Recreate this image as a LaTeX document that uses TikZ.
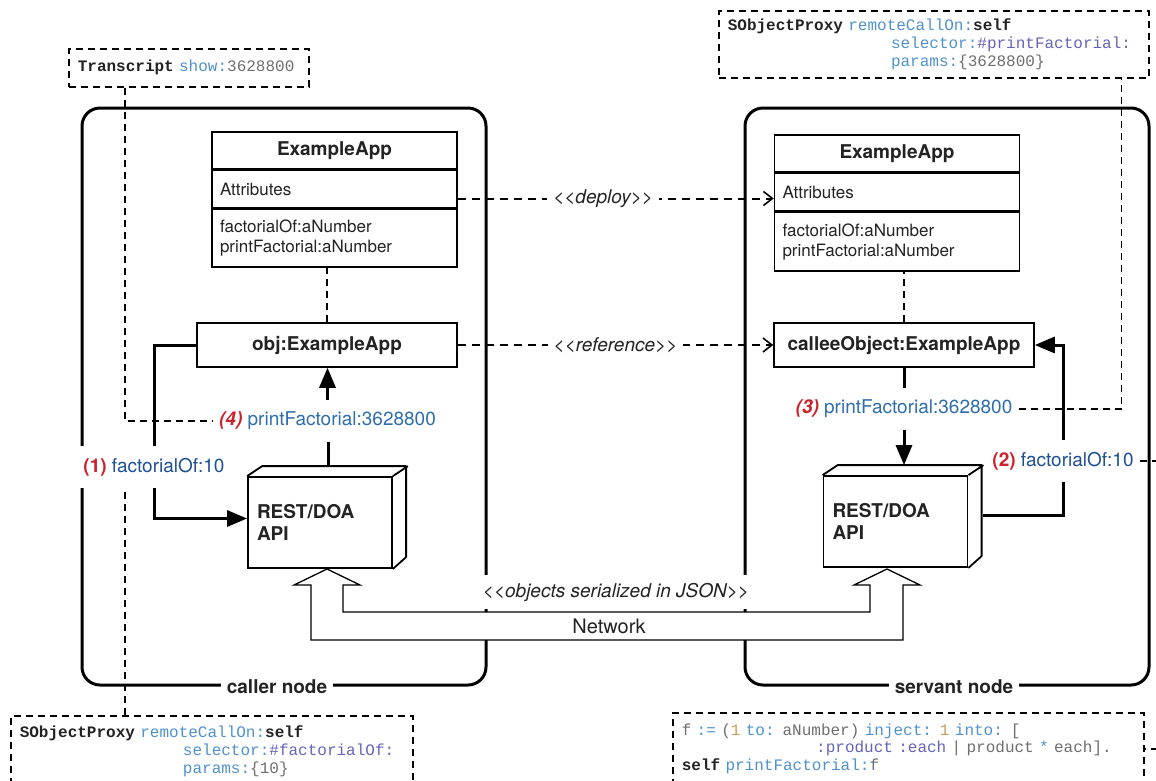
\documentclass[tikz,border=0pt]{standalone}
\usepackage{fontspec}
\setmainfont{TeX Gyre Heros}
\setmonofont{Liberation Mono}
\usepackage{xcolor}
\usepackage{tikz}
\usetikzlibrary{arrows.meta,positioning}

\definecolor{inkgray}{RGB}{35,35,35}
\definecolor{msgred}{RGB}{204,34,41}
\definecolor{msgblue}{RGB}{46,110,173}
\definecolor{msgnavy}{RGB}{30,80,150}
\definecolor{kwblue}{RGB}{80,145,205}
\definecolor{symblue}{RGB}{100,100,185}
\definecolor{codegray}{RGB}{110,110,110}
\definecolor{numtan}{RGB}{200,155,90}

\newcommand\ckw[1]{{\color{kwblue}#1}}
\newcommand\csym[1]{{\color{symblue}#1}}
\newcommand\cnum[1]{{\color{numtan}#1}}
\newcommand\cbold[1]{{\color{inkgray}\bfseries#1}}

\begin{document}
\begin{tikzpicture}[
  x=1pt, y=-1pt,
  nodebox/.style={draw, line width=3pt, rounded corners=18pt,
                  minimum width=404pt, minimum height=577pt},
  nodelabel/.style={fill=white, inner xsep=6pt, inner ysep=2pt, text=inkgray,
                    font=\fontsize{19}{22}\selectfont\bfseries},
  classhead/.style={draw, line width=1.5pt, minimum width=245pt, minimum height=37pt,
                    text=inkgray, font=\fontsize{19}{22}\selectfont\bfseries},
  classpart/.style={draw, line width=1.5pt, text width=229pt, inner xsep=8pt, align=left,
                    minimum height=37pt, text=inkgray, font=\fontsize{17}{20}\selectfont},
  objbox/.style={draw, line width=1.5pt, fill=white, minimum width=260pt, minimum height=44pt,
                 text=inkgray, font=\fontsize{19}{22}\selectfont\bfseries},
  restbox/.style={draw, line width=1.8pt, fill=white, minimum height=91pt, text width=126pt,
                  inner xsep=9pt, align=left, text=inkgray,
                  font=\fontsize{19}{22}\selectfont\bfseries},
  restside/.style={draw, line width=1.8pt, line join=round},
  msglabel/.style={fill=white, inner xsep=6pt, inner ysep=12pt, font=\fontsize{19}{22}\selectfont},
  msgline/.style={line width=3pt},
  msgarrow/.style={line width=3pt, -{Triangle[length=20pt,width=16pt]}},
  dep/.style={line width=2pt, dash pattern=on 8pt off 6pt,
              -{Straight Barb[length=9pt,width=14pt,line width=1.6pt]}},
  stereo/.style={fill=white, inner sep=6pt, text=inkgray, font=\fontsize{19}{22}\selectfont\itshape},
  note/.style={line width=1.6pt, dash pattern=on 7pt off 5pt},
  codebox/.style={draw, note, anchor=north west, inner xsep=9pt, inner ysep=4pt, align=left,
                  text=codegray, font=\fontsize{16}{18}\selectfont\ttfamily},
  network/.style={draw, line width=1.3pt, fill=white}
]
  \useasboundingbox (0,0) rectangle (1156,780);
  \clip (0,0) rectangle (1156,780);

  \node[nodebox] (caller) at (284,396.5) {};
  \node[nodebox] (servant) at (947,396.5) {};

  \node[classhead] (lcls) at (334.5,150.5) {ExampleApp};
  \node[classpart, below=0pt of lcls] (lattr) {Attributes};
  \node[classpart, below=0pt of lattr, minimum height=58pt] (lmeth) {factorialOf:aNumber\\printFactorial:aNumber};
  \node[classhead] (rcls) at (897,153.5) {ExampleApp};
  \node[classpart, below=0pt of rcls] (rattr) {Attributes};
  \node[classpart, below=0pt of rattr, minimum height=59pt] (rmeth) {factorialOf:aNumber\\printFactorial:aNumber};

  \node[objbox] (lobj) at (327,345) {obj:ExampleApp};
  \node[objbox] (robj) at (904,345) {calleeObject:ExampleApp};
  \draw[note] (lobj.north) -- (lobj.north |- lmeth.south);
  \draw[note] (robj.north) -- (robj.north |- rmeth.south);

  \draw[dep] ([yshift=-9.5pt]lattr.east) coordinate (dep0) -- node[stereo, pos=0.46] {<{}<deploy>{}>} (dep0 -| rattr.west);
  \draw[dep] (lobj.east) -- node[stereo] {<{}<reference>{}>} (robj.west);

  \node[restbox] (lrest) at (320,522.5) {REST/DOA\\API};
  \draw[restside] (lrest.north west) -- ++(15,-10) -- ++(144,0) -- ++(0,91) -- (lrest.south east)
                  (lrest.north east) -- ++(15,-10);
  \node[restbox] (rrest) at (895.5,521.5) {REST/DOA\\API};
  \draw[restside] (rrest.north west) -- ++(15,-10) -- ++(144,0) -- ++(0,91) -- (rrest.south east)
                  (rrest.north east) -- ++(15,-10);
  \coordinate (lresttop) at ([shift={(8,-10)}]lrest.north);
  \coordinate (rresttop) at ([shift={(8,-10)}]rrest.north);
  \coordinate (rrestside) at ([shift={(15,-6)}]rrest.east);

  \draw[network] (327,569) -- (360,585) -- (343,585) -- (343,612) -- (870,612) -- (870,585)
    -- (854,585) -- (887,569) -- (920,585) -- (903,585) -- (903,640) -- (311,640)
    -- (311,585) -- (294,585) -- cycle;
  \node[stereo, inner ysep=8pt] (json) at (616,592) {<{}<objects serialized in JSON>{}>};
  \node[text=inkgray, font=\fontsize{20}{24}\selectfont] (net) at (609,626) {Network};

  \node[nodelabel] (callerlbl) at ([xshift=-7pt]caller.south) {caller node};
  \node[nodelabel] (servantlbl) at ([xshift=7pt]servant.south) {servant node};

  \node[msglabel] (l1) at (154,467) {\textcolor{msgred}{\bfseries(1)} \textcolor{msgnavy}{factorialOf:10}};
  \node[msglabel] (l4) at (327.5,421) {\textcolor{msgred}{\bfseries\itshape(4)} \textcolor{msgblue}{printFactorial:3628800}};
  \node[msglabel] (l3) at (904,409) {\textcolor{msgred}{\bfseries\itshape(3)} \textcolor{msgblue}{printFactorial:3628800}};
  \node[msglabel] (l2) at (1063,461) {\textcolor{msgred}{\bfseries(2)} \textcolor{msgnavy}{factorialOf:10}};

  \draw[msgline] (lobj.west) -| (l1.north);
  \draw[msgarrow] (l1.south) |- ([yshift=4pt]lrest.west);
  \draw[msgline] (lresttop) -- (lresttop |- l4.south);
  \draw[msgarrow] (l4.north) -- (l4.north |- lobj.south);
  \draw[msgline] (robj.south) -- (robj.south |- l3.north);
  \draw[msgarrow] (l3.south) -- (l3.south |- rresttop);
  \draw[msgline] (rrestside) -| (l2.south);
  \draw[msgarrow] (l2.north) |- (robj.east);

  \node[codebox, text width=222pt, minimum height=38pt] (tbox) at (68,48)
    {\cbold{Transcript} \ckw{show:}3628800};
  \node[codebox, text width=412pt, minimum height=67pt] (trbox) at (718,10)
    {\cbold{SObjectProxy} \ckw{remoteCallOn:}\cbold{self}\\
     \hspace*{10.2em}\ckw{selector:}\csym{\#printFactorial:}\\
     \hspace*{10.2em}\ckw{params:}\{3628800\}};
  \node[codebox, text width=384pt, minimum height=70pt] (blbox) at (10,715)
    {\cbold{SObjectProxy} \ckw{remoteCallOn:}\cbold{self}\\
     \hspace*{10.2em}\ckw{selector:}\csym{\#factorialOf:}\\
     \hspace*{10.2em}\ckw{params:}\{10\}};
  \node[codebox, text width=453pt, minimum height=72pt, font=\fontsize{16}{17.5}\selectfont\ttfamily] (brbox) at (672,712)
    {f \ckw{:=} (\cnum{1} \ckw{to:} aNumber) \ckw{inject:} \cnum{1} \ckw{into:} [\\
     \hspace*{8.4em}\csym{:product :each} | product \ckw{*} each].\\
     \cbold{self} \ckw{printFactorial:}f};

  \coordinate (tnote) at ([xshift=57pt]tbox.south west);
  \draw[note] (tnote) |- (l4.west);
  \coordinate (blnote) at ([xshift=115pt]blbox.north west);
  \draw[note] (blnote) -- (blnote |- l1.south);
  \draw[note] (l3.east) -| ([xshift=-28pt]trbox.south east);
  \draw[note] (l2.east) -- ++(27,0) |- (brbox.east);
\end{tikzpicture}
\end{document}
